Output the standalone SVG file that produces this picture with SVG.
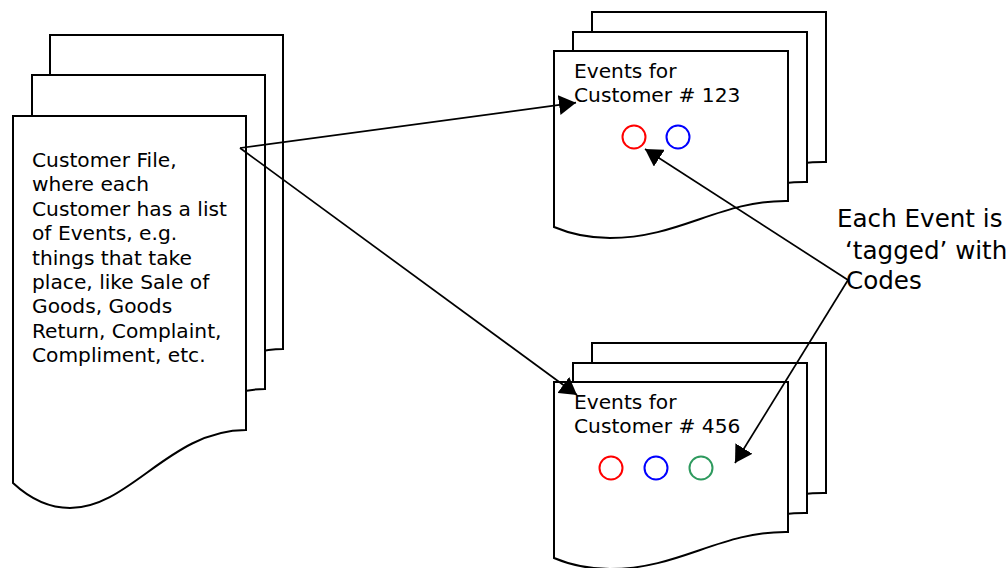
<svg xmlns="http://www.w3.org/2000/svg" xmlns:xlink="http://www.w3.org/1999/xlink" width="1008" height="568" viewBox="0 0 1008 568">
  <style>
    .page { fill: #ffffff; stroke: #000000; stroke-width: 2; stroke-linejoin: miter; }
    .txt { font-family: "DejaVu Sans", Verdana, sans-serif; font-size: 20.2px; fill: #000000; }
    .note { font-family: "DejaVu Sans", Verdana, sans-serif; font-size: 24.6px; fill: #000000; }
    .code { fill: none; stroke-width: 2; }
    .conn { fill: none; stroke: #000000; stroke-width: 1.7; }
  </style>
  <defs>
    <!-- tall document sheet with a wavy bottom edge -->
    <path id="docTall" d="M0,0 H233 V314 C157,314 117,392 57,392 Q27,392 0,367 Z"/>
    <!-- short document sheet with a wavy bottom edge -->
    <path id="docShort" d="M0,0 H234 V150 C166,149 126,187 56,187 Q26,187 0,176 Z"/>
    <marker id="arrow" markerUnits="userSpaceOnUse" markerWidth="17" markerHeight="20" refX="17" refY="10" orient="auto">
      <path d="M0,0 L17,10 L0,20 Z" fill="#000000"/>
    </marker>
  </defs>

  <rect width="1008" height="568" fill="#ffffff"/>

  <!-- customer file stack -->
  <g id="customer-file">
    <use xlink:href="#docTall" class="page" transform="translate(50,35)"/>
    <use xlink:href="#docTall" class="page" transform="translate(32,75)"/>
    <use xlink:href="#docTall" class="page" transform="translate(13,116)"/>
    <text class="txt">
      <tspan x="32" y="167">Customer File,</tspan>
      <tspan x="32" y="191.4">where each</tspan>
      <tspan x="32" y="215.8">Customer has a list</tspan>
      <tspan x="32" y="240.2">of Events, e.g.</tspan>
      <tspan x="32" y="264.6">things that take</tspan>
      <tspan x="32" y="289">place, like Sale of</tspan>
      <tspan x="32" y="313.4">Goods, Goods</tspan>
      <tspan x="32" y="337.8">Return, Complaint,</tspan>
      <tspan x="32" y="362.2">Compliment, etc.</tspan>
    </text>
  </g>

  <!-- events for customer 123 -->
  <g id="events-123">
    <use xlink:href="#docShort" class="page" transform="translate(592,12)"/>
    <use xlink:href="#docShort" class="page" transform="translate(573,32)"/>
    <use xlink:href="#docShort" class="page" transform="translate(554,51)"/>
    <text class="txt">
      <tspan x="574" y="78">Events for</tspan>
      <tspan x="574" y="102">Customer # 123</tspan>
    </text>
    <circle class="code" cx="634" cy="137" r="11.5" stroke="#ff0000"/>
    <circle class="code" cx="678" cy="137" r="11.5" stroke="#0000ff"/>
  </g>

  <!-- events for customer 456 -->
  <g id="events-456">
    <use xlink:href="#docShort" class="page" transform="translate(592,343)"/>
    <use xlink:href="#docShort" class="page" transform="translate(573,363)"/>
    <use xlink:href="#docShort" class="page" transform="translate(554,382)"/>
    <text class="txt">
      <tspan x="574" y="409">Events for</tspan>
      <tspan x="574" y="433">Customer # 456</tspan>
    </text>
    <circle class="code" cx="611" cy="468" r="11.5" stroke="#ff0000"/>
    <circle class="code" cx="656" cy="468" r="11.5" stroke="#0000ff"/>
    <circle class="code" cx="701" cy="468" r="11.5" stroke="#2e9a5e"/>
  </g>

  <!-- annotation -->
  <g id="tag-note">
    <text class="note">
      <tspan x="837" y="227">Each Event is</tspan>
      <tspan x="845" y="258.5">‘tagged’ with</tspan>
      <tspan x="846" y="288.5">Codes</tspan>
    </text>
  </g>

  <!-- connectors -->
  <g id="connectors">
    <line class="conn" x1="240" y1="148" x2="576" y2="102.7" marker-end="url(#arrow)"/>
    <line class="conn" x1="240" y1="148" x2="577" y2="395" marker-end="url(#arrow)"/>
    <line class="conn" x1="848" y1="280" x2="645" y2="149" marker-end="url(#arrow)"/>
    <line class="conn" x1="848" y1="280" x2="735" y2="463" marker-end="url(#arrow)"/>
  </g>
</svg>
